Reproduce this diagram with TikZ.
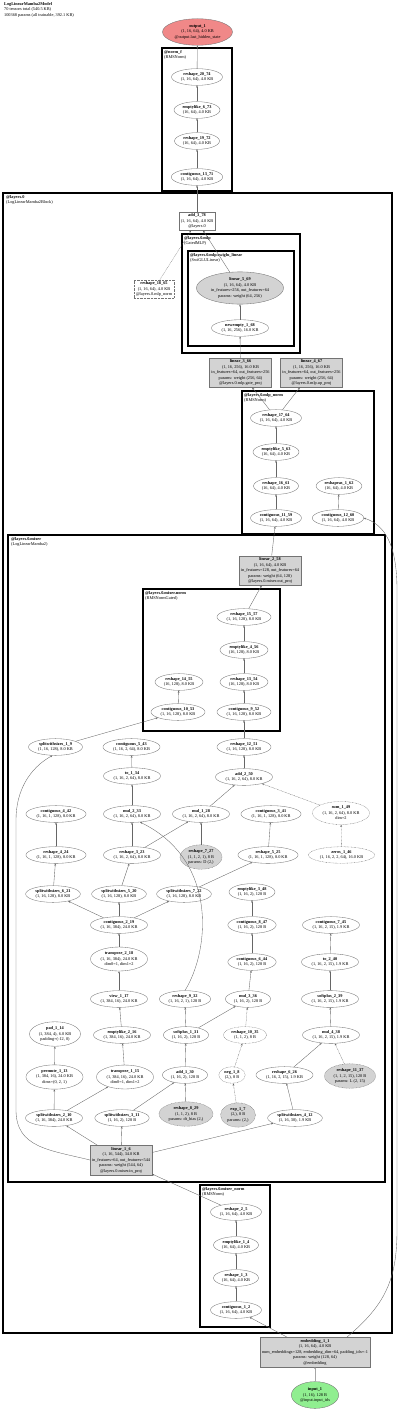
\documentclass[tikz,border=0pt]{standalone}
\usepackage{fontspec}
\setmainfont{Liberation Serif}
\usepackage{tikz}
\usetikzlibrary{shapes.geometric}
\usetikzlibrary{arrows.meta}
\usepackage{xcolor}
\definecolor{outpink}{RGB}{240,136,136}
\definecolor{ingreen}{RGB}{144,238,144}
\definecolor{parmgray}{RGB}{211,211,211}

\begin{document}
\begin{tikzpicture}[x=1pt,y=-1pt,
    every node/.style={font=\fontsize{4.3}{5.5}\selectfont, align=center},
    op/.style={ellipse, draw=gray!90!black, line width=0.35pt, inner xsep=1.8pt, inner ysep=1.2pt},
    parm/.style={op, fill=parmgray},
    faint/.style={dash pattern=on 0.7pt off 0.7pt},
    tbox/.style={rectangle, draw=gray!90!black, line width=0.35pt, inner sep=1.8pt},
    modbox/.style={tbox, fill=parmgray},
    grp/.style={draw, line width=1.2pt},
    grplabel/.style={anchor=north west, align=left, inner sep=0pt},
    flow/.style={draw=gray!80!black, line width=0.35pt, -{Stealth[length=2.2pt,width=1.8pt]}}]
    \useasboundingbox (0,0) rectangle (400,1411);

    % Header
    \node[grplabel] (hdr) at (4,2) {\textbf{LogLinearMamba2Model}\\70 tensors total (540.5 KB)\\100368 params (all trainable, 392.1 KB)};

    % Clusters
    \draw[grp] (162,48) rectangle (232,191);
    \node[grplabel] at (164,50) {\textbf{@norm\_f}\\(RMSNorm)};
    \draw[grp] (3,193) rectangle (392,1333);
    \node[grplabel] at (6,195) {\textbf{@layers.0}\\(LogLinearMamba2Block)};
    \draw[grp] (182,234) rectangle (300,353);
    \node[grplabel] at (184,236) {\textbf{@layers.0.mlp}\\(GatedMLP)};
    \draw[grp] (188,251) rectangle (294,346);
    \node[grplabel] at (190,253) {\textbf{@layers.0.mlp.swiglu\_linear}\\(SwiGLULinear)};
    \draw[grp] (242,391) rectangle (374,534);
    \node[grplabel] at (244,393) {\textbf{@layers.0.mlp\_norm}\\(RMSNorm)};
    \draw[grp] (8,535) rectangle (385,1182);
    \node[grplabel] at (11,537) {\textbf{@layers.0.mixer}\\(LogLinearMamba2)};
    \draw[grp] (143,589) rectangle (280,731);
    \node[grplabel] at (145,591) {\textbf{@layers.0.mixer.norm}\\(RMSNormGated)};
    \draw[grp] (200,1185) rectangle (270,1327);
    \node[grplabel] at (202,1187) {\textbf{@layers.0.mixer\_norm}\\(RMSNorm)};

    % Output and final norm
    \node[op, fill=outpink, inner ysep=2pt] (out1) at (197.5,32) {\textbf{output\_1}\\(1, 16, 64), 4.0 KB\\@output.last\_hidden\_state};
    \node[op] (r2074) at (197,77) {\textbf{reshape\_20\_74}\\(1, 16, 64), 4.0 KB};
    \node[op] (el673) at (197,110) {\textbf{emptylike\_6\_73}\\(16, 64), 4.0 KB};
    \node[op] (r1972) at (197,141) {\textbf{reshape\_19\_72}\\(16, 64), 4.0 KB};
    \node[op] (c1371) at (197,177) {\textbf{contiguous\_13\_71}\\(1, 16, 64), 4.0 KB};

    % MLP
    \node[tbox] (a378) at (197,221) {\textbf{add\_3\_78}\\(1, 16, 64), 4.0 KB\\@layers.0};
    \node[parm] (l569) at (240,288) {\textbf{linear\_5\_69}\\(1, 16, 64), 4.0 KB\\in\_features=256, out\_features=64\\params: weight (64, 256)};
    \node[op] (ne168) at (240,328) {\textbf{newempty\_1\_68}\\(1, 16, 256), 16.0 KB};
    \node[tbox, faint] (r1865) at (154,289) {\textbf{reshape\_18\_65}\\(1, 16, 64), 4.0 KB\\@layers.0.mlp\_norm};
    \node[modbox] (l366) at (240.5,372.5) {\textbf{linear\_3\_66}\\(1, 16, 256), 16.0 KB\\in\_features=64, out\_features=256\\params: weight (256, 64)\\@layers.0.mlp.gate\_proj};
    \node[modbox] (l467) at (311.5,372.5) {\textbf{linear\_4\_67}\\(1, 16, 256), 16.0 KB\\in\_features=64, out\_features=256\\params: weight (256, 64)\\@layers.0.mlp.up\_proj};

    % MLP norm
    \node[op] (r1764) at (276,418) {\textbf{reshape\_17\_64}\\(1, 16, 64), 4.0 KB};
    \node[op] (el563) at (276,452) {\textbf{emptylike\_5\_63}\\(16, 64), 4.0 KB};
    \node[op] (r1661) at (276,486) {\textbf{reshape\_16\_61}\\(16, 64), 4.0 KB};
    \node[op] (ra162) at (339,486) {\textbf{reshapeas\_1\_62}\\(16, 64), 4.0 KB};
    \node[op] (c1159) at (276,518) {\textbf{contiguous\_11\_59}\\(1, 16, 64), 4.0 KB};
    \node[op] (c1260) at (338,518) {\textbf{contiguous\_12\_60}\\(1, 16, 64), 4.0 KB};

    % Mixer
    \node[modbox] (l258) at (270,570.5) {\textbf{linear\_2\_58}\\(1, 16, 64), 4.0 KB\\in\_features=128, out\_features=64\\params: weight (64, 128)\\@layers.0.mixer.out\_proj};
    \node[op] (r1557) at (244,617) {\textbf{reshape\_15\_57}\\(1, 16, 128), 8.0 KB};
    \node[op] (el456) at (244,650) {\textbf{emptylike\_4\_56}\\(16, 128), 8.0 KB};
    \node[op] (r1455) at (179,682) {\textbf{reshape\_14\_55}\\(16, 128), 8.0 KB};
    \node[op] (r1354) at (244,682) {\textbf{reshape\_13\_54}\\(16, 128), 8.0 KB};
    \node[op] (c1053) at (178,712) {\textbf{contiguous\_10\_53}\\(1, 16, 128), 8.0 KB};
    \node[op] (c952) at (244,712) {\textbf{contiguous\_9\_52}\\(1, 16, 128), 8.0 KB};

    \node[op] (s19) at (55.5,747) {\textbf{splitwithsizes\_1\_9}\\(1, 16, 128), 8.0 KB};
    \node[op] (c543) at (131.5,747) {\textbf{contiguous\_5\_43}\\(1, 16, 2, 64), 8.0 KB};
    \node[op] (r1251) at (244,747) {\textbf{reshape\_12\_51}\\(1, 16, 128), 8.0 KB};
    \node[op] (t134) at (132,776) {\textbf{to\_1\_34}\\(1, 16, 2, 64), 8.0 KB};
    \node[op] (a250) at (244,777) {\textbf{add\_2\_50}\\(1, 16, 2, 64), 8.0 KB};
    \node[op] (c442) at (56,814) {\textbf{contiguous\_4\_42}\\(1, 16, 1, 128), 8.0 KB};
    \node[op] (m233) at (132,814) {\textbf{mul\_2\_33}\\(1, 16, 2, 64), 8.0 KB};
    \node[op] (m128) at (201,814) {\textbf{mul\_1\_28}\\(1, 16, 2, 64), 8.0 KB};
    \node[op] (c341) at (271,814) {\textbf{contiguous\_3\_41}\\(1, 16, 1, 128), 8.0 KB};
    \node[op, faint] (su149) at (341,813) {\textbf{sum\_1\_49}\\(1, 16, 2, 64), 8.0 KB\\dim=2};
    \node[op] (r424) at (56,855) {\textbf{reshape\_4\_24}\\(1, 16, 1, 128), 8.0 KB};
    \node[op] (r323) at (132,855) {\textbf{reshape\_3\_23}\\(1, 16, 2, 64), 8.0 KB};
    \node[parm, faint] (r727) at (201,857) {\textbf{reshape\_7\_27}\\(1, 1, 2, 1), 8 B\\params: D (2,)};
    \node[op] (r525) at (268,855) {\textbf{reshape\_5\_25}\\(1, 16, 1, 128), 8.0 KB};
    \node[op, faint] (z146) at (341.5,855) {\textbf{zeros\_1\_46}\\(1, 16, 2, 2, 64), 16.0 KB};
    \node[op] (s621) at (53,894) {\textbf{splitwithsizes\_6\_21}\\(1, 16, 128), 8.0 KB};
    \node[op] (s520) at (119,894) {\textbf{splitwithsizes\_5\_20}\\(1, 16, 128), 8.0 KB};
    \node[op] (s722) at (184,894) {\textbf{splitwithsizes\_7\_22}\\(1, 16, 128), 8.0 KB};
    \node[op] (el348) at (252,892) {\textbf{emptylike\_3\_48}\\(1, 16, 2), 128 B};
    \node[op] (c219) at (119,925) {\textbf{contiguous\_2\_19}\\(1, 16, 384), 24.0 KB};
    \node[op] (c847) at (252,925) {\textbf{contiguous\_8\_47}\\(1, 16, 2), 128 B};
    \node[op] (c745) at (331,925) {\textbf{contiguous\_7\_45}\\(1, 16, 2, 15), 1.9 KB};
    \node[op] (tr218) at (119,959) {\textbf{transpose\_2\_18}\\(1, 16, 384), 24.0 KB\\dim0=1, dim1=2};
    \node[op] (c644) at (252,962) {\textbf{contiguous\_6\_44}\\(1, 16, 2), 128 B};
    \node[op] (t240) at (330,962) {\textbf{to\_2\_40}\\(1, 16, 2, 15), 1.9 KB};
    \node[op] (v117) at (119,999) {\textbf{view\_1\_17}\\(1, 384, 16), 24.0 KB};
    \node[op] (r932) at (185,999) {\textbf{reshape\_9\_32}\\(1, 16, 2, 1), 128 B};
    \node[op] (m336) at (248,999) {\textbf{mul\_3\_36}\\(1, 16, 2), 128 B};
    \node[op] (sp239) at (330,999) {\textbf{softplus\_2\_39}\\(1, 16, 2, 15), 1.9 KB};
    \node[op] (p114) at (55,1034) {\textbf{pad\_1\_14}\\(1, 384, 4), 6.0 KB\\padding=(-12, 0)};
    \node[op] (el216) at (122,1035) {\textbf{emptylike\_2\_16}\\(1, 384, 16), 24.0 KB};
    \node[op] (sp131) at (186,1035) {\textbf{softplus\_1\_31}\\(1, 16, 2), 128 B};
    \node[op, faint] (r1035) at (245,1035) {\textbf{reshape\_10\_35}\\(1, 1, 2), 8 B};
    \node[op] (m438) at (331,1035) {\textbf{mul\_4\_38}\\(1, 16, 2, 15), 1.9 KB};
    \node[op] (pe113) at (54.5,1077) {\textbf{permute\_1\_13}\\(1, 384, 16), 24.0 KB\\dims=(0, 2, 1)};
    \node[op] (tr115) at (125,1077) {\textbf{transpose\_1\_15}\\(1, 384, 16), 24.0 KB\\dim0=1, dim1=2};
    \node[op] (a130) at (185,1075) {\textbf{add\_1\_30}\\(1, 16, 2), 128 B};
    \node[op, faint] (n18) at (232,1075) {\textbf{neg\_1\_8}\\(2,), 8 B};
    \node[op] (r626) at (284.5,1075) {\textbf{reshape\_6\_26}\\(1, 16, 2, 15), 1.9 KB};
    \node[parm, faint] (r1137) at (350,1076) {\textbf{reshape\_11\_37}\\(1, 1, 2, 15), 120 B\\params: L (2, 15)};
    \node[op] (s210) at (54,1118) {\textbf{splitwithsizes\_2\_10}\\(1, 16, 384), 24.0 KB};
    \node[op] (s311) at (122,1118) {\textbf{splitwithsizes\_3\_11}\\(1, 16, 2), 128 B};
    \node[parm, faint] (r829) at (186,1114) {\textbf{reshape\_8\_29}\\(1, 1, 2), 8 B\\params: dt\_bias (2,)};
    \node[parm, faint] (e17) at (238,1115) {\textbf{exp\_1\_7}\\(2,), 8 B\\params: (2,)};
    \node[op] (s412) at (295,1118) {\textbf{splitwithsizes\_4\_12}\\(1, 16, 30), 1.9 KB};
    \node[modbox] (l16) at (121,1160) {\textbf{linear\_1\_6}\\(1, 16, 544), 34.0 KB\\in\_features=64, out\_features=544\\params: weight (544, 64)\\@layers.0.mixer.in\_proj};

    % Mixer norm
    \node[op] (r25) at (236,1212) {\textbf{reshape\_2\_5}\\(1, 16, 64), 4.0 KB};
    \node[op] (el14) at (236,1245) {\textbf{emptylike\_1\_4}\\(16, 64), 4.0 KB};
    \node[op] (r13) at (236,1278) {\textbf{reshape\_1\_3}\\(16, 64), 4.0 KB};
    \node[op] (c12) at (236,1310) {\textbf{contiguous\_1\_2}\\(1, 16, 64), 4.0 KB};

    % Embedding and input
    \node[modbox] (e11) at (315,1352) {\textbf{embedding\_1\_1}\\(1, 16, 64), 4.0 KB\\num\_embeddings=128, embedding\_dim=64, padding\_idx=-1\\params: weight (128, 64)\\@embedding};
    \node[op, fill=ingreen, inner ysep=2pt] (in1) at (315,1395) {\textbf{input\_1}\\(1, 16), 128 B\\@input.input\_ids};

    % Edges
    \foreach \a/\b in {r2074/out1, el673/r2074, r1972/el673, c1371/r1972, a378/c1371,
        l569/a378, ne168/l569, l366/ne168, r1764/l366, r1764/l467, el563/r1764,
        r1661/el563, c1159/r1661, c1260/ra162, l258/c1159, r1557/l258, el456/r1557,
        r1354/el456, c952/r1354, c1053/r1455, r1251/c952, a250/r1251, s19/c1053,
        t134/c543, m233/t134, m128/a250, r424/c442, r323/m233, r323/m128, r727/m128,
        r525/c341, s621/r424, s520/r323, s722/r525, c219/s621, c219/s520, c219/s722,
        c847/el348, tr218/c219, c644/c847, t240/c745, v117/tr218, m336/c644,
        sp239/t240, el216/v117, sp131/r932, sp131/m336, m438/sp239, pe113/p114,
        tr115/el216, a130/sp131, r626/m438, s210/pe113, s210/tr115, s311/a130,
        r829/a130, s412/r626, l16/s210, l16/s311, l16/s412, r25/l16, el14/r25,
        r13/el14, c12/r13, e11/c12} {
        \draw[flow] (\a) -- (\b);
    }
    \foreach \a/\b in {r1865/a378, su149/a250, z146/su149, r1035/m336, n18/r1035,
        e17/n18, r1137/m438} {
        \draw[flow, faint] (\a) -- (\b);
    }
    \draw[flow, line width=1pt, draw=gray!70] (in1) -- (e11);

    % Long connectors
    \draw[flow] (l16.west) .. controls (50,1150) and (16,1148) .. (16,1110) -- (16,820)
        .. controls (16,790) and (30,768) .. (s19.-110);
    \draw[flow] (r932.north) .. controls (210,950) and (218,860) .. (m233.-45);
    \draw[flow] (e11.25) .. controls (385,1305) and (397,1280) .. (397,1230) -- (397,590)
        .. controls (397,545) and (385,525) .. (c1260.east);
\end{tikzpicture}
\end{document}
